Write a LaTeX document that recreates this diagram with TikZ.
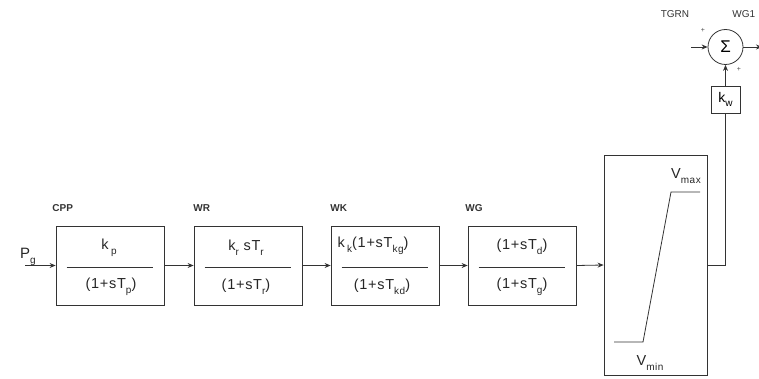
\documentclass[tikz,border=0pt]{standalone}
\usepackage{fontspec}
\setmainfont{Liberation Sans}
\usetikzlibrary{arrows.meta}
\newcommand\sbs[1]{\raisebox{-0.6ex}{\fontsize{10}{10}\selectfont #1}}
\begin{document}
\begin{tikzpicture}[x=1pt,y=-1pt, line width=0.8pt,
  blk/.style={draw=black!80, minimum width=108pt, minimum height=79pt, inner sep=0pt},
  lbl/.style={font=\fontsize{10}{12}\selectfont\bfseries, anchor=west, text=black!80, inner sep=0pt},
  tf/.style={font=\fontsize{14.5}{16}\selectfont\addfontfeature{LetterSpace=5}, inner sep=1pt, text=black!85},
  cn/.style={draw=black!80},
  sig/.style={draw=black!80, -{Stealth[length=6pt,width=5pt]}}]
\useasboundingbox (0,0) rectangle (759,379);

% blocks
\node[blk] (b1) at (110,265.5) {};
\node[blk] (b2) at (248,265.5) {};
\node[blk] (b3) at (385,265.5) {};
\node[blk] (b4) at (522,265.5) {};
\node[draw=black!80, minimum width=103pt, minimum height=220pt, inner sep=0pt] (lim) at (655.5,265) {};

% labels
\node[lbl] (lcpp) at (52,208) {CPP};
\node[lbl] (lwr) at (193,208) {WR};
\node[lbl] (lwk) at (330,208) {WK};
\node[lbl] (lwg) at (465,208) {WG};

% fraction lines
\foreach \b in {b1,b2,b3,b4}{
  \draw[cn] ([xshift=11pt,yshift=-1.5pt]\b.west) -- ([xshift=-11pt,yshift=-1.5pt]\b.east);
}

% transfer functions
\node[tf] (n1) at (109,248) {k\,\sbs{p}};
\node[tf] (d1) at (111,287) {(1+sT\sbs{p})};
\node[tf] (n2) at (246,248) {k\sbs{r} sT\sbs{r}};
\node[tf] (d2) at (246,287) {(1+sT\sbs{r})};
\node[tf] (n3) at (373,246) {k\,\sbs{k}(1+sT\sbs{kg})};
\node[tf] (d3) at (382,287) {(1+sT\sbs{kd})};
\node[tf] (n4) at (522,247) {(1+sT\sbs{d})};
\node[tf] (d4) at (522,287) {(1+sT\sbs{g})};

% input
\node[font=\fontsize{15}{16}\selectfont, text=black!85, inner sep=0pt] (pg) at (28,257) {P\sbs{g}};
\coordinate (in) at (25,265.5);

% limiter characteristic
\draw[cn] (614,342) -- (643,342) -- (671,192) -- (700,192);
\node[tf] (vmax) at (686,176) {V\sbs{max}};
\node[tf] (vmin) at (650,363) {V\sbs{min}};

% summing junction and gain
\node[circle, draw=black!80, minimum size=35pt, inner sep=0pt] (sum) at (725.5,47) {\fontsize{17}{17}\selectfont Σ};
\node[draw=black!80, minimum width=29pt, minimum height=27pt, inner sep=0pt, font=\fontsize{14}{14}\selectfont] (kw) at (725.5,99.5) {k\sbs{w}};
\node[font=\fontsize{10}{12}\selectfont, text=black!80, inner sep=0pt] (tgrn) at (675,14) {TGRN};
\node[font=\fontsize{10}{12}\selectfont, text=black!80, inner sep=0pt, anchor=west] (wg1) at (732,14) {WG1};
\node[font=\fontsize{7}{8}\selectfont, text=black!70, inner sep=0pt] (pl1) at (703,30) {+};
\node[font=\fontsize{7}{8}\selectfont, text=black!70, inner sep=0pt] (pl2) at (739,69) {+};
\coordinate (tg) at (691,47);
\coordinate (wgo) at (762,47);

% connectors
\draw[sig] (in) -- (b1.west);
\draw[sig] (b1.east) -- (b2.west);
\draw[sig] (b2.east) -- (b3.west);
\draw[sig] (b3.east) -- (b4.west);
\draw[sig] (b4.east) -- (lim.west);
\draw[cn] (lim.east) -| (kw.south);
\draw[sig] (kw.north) -- (sum.south);
\draw[sig] (tg) -- (sum.west);
\draw[sig] (sum.east) -- (wgo);
\end{tikzpicture}
\end{document}
